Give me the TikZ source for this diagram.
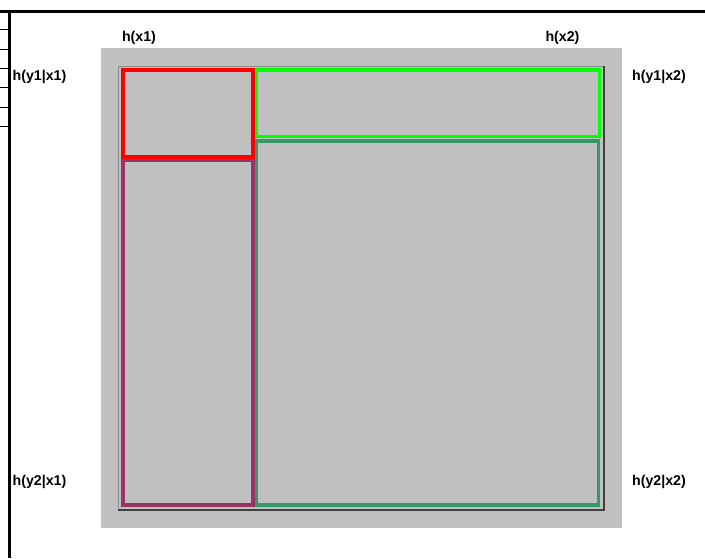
\documentclass[tikz,border=0pt]{standalone}
\usepackage{fontspec}
\setmainfont{Liberation Sans}
\definecolor{bggray}{HTML}{C0C0C0}
\definecolor{fralight}{HTML}{8C8C8C}
\definecolor{fradark}{HTML}{404040}
\definecolor{cred}{HTML}{FF0000}
\definecolor{cgreen}{HTML}{00FF00}
\definecolor{cteal}{HTML}{339966}
\definecolor{cpurple}{HTML}{993366}
\tikzset{
  lbl/.style={font=\fontsize{14.2}{16}\selectfont\bfseries, inner sep=0pt},
  cell/.style={line width=3.2pt},
  axisline/.style={line width=3pt, black},
  tick/.style={line width=1pt, black}
}
\begin{document}
\begin{tikzpicture}[x=1pt,y=-1pt]
\useasboundingbox (0,0) rectangle (705,558);
% axis lines
\draw[axisline] (0,11) -- (705,11);
\draw[axisline] (9,9.5) -- (9,558);
\foreach \yy in {29,49,68,87,107,126}
  \draw[tick] (0,\yy) -- (9,\yy);
% background panel
\fill[bggray] (101,48) rectangle (622,528);
% inset frame
\draw[fralight, line width=1pt] (118,510) -- (118,66) -- (604,66);
\draw[fradark, line width=1.2pt] (118,510) -- (604,510) -- (604,66);
% cells
\draw[cell, cpurple] (123,160.5) rectangle (253,505);
\draw[cell, cteal] (256.5,141) rectangle (598.5,505);
\draw[cell, cgreen] (256.5,70) rectangle (599.5,136.5);
\draw[cell, cred] (123,70) rectangle (253,157);
% labels
\node[lbl] (hx1) at (139,38) {h(x1)};
\node[lbl] (hx2) at (562.5,38) {h(x2)};
\node[lbl] (hy1x1) at (39.5,77) {h(y1|x1)};
\node[lbl] (hy1x2) at (659,77) {h(y1|x2)};
\node[lbl] (hy2x1) at (39.5,482) {h(y2|x1)};
\node[lbl] (hy2x2) at (659,482) {h(y2|x2)};
\end{tikzpicture}
\end{document}
